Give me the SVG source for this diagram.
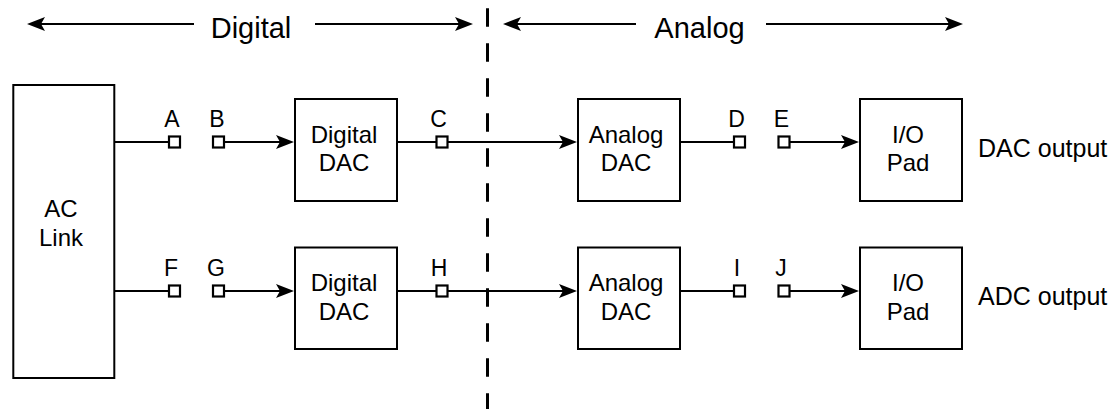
<svg xmlns="http://www.w3.org/2000/svg" width="1113" height="409" viewBox="0 0 1113 409">
  <style>
    text { font-family: "Liberation Sans", Arial, sans-serif; fill: #000; }
    .box { fill: #fff; stroke: #000; stroke-width: 2; }
    .port { fill: #fff; stroke: #000; stroke-width: 2.2; }
    .lbl { font-size: 23px; text-anchor: middle; }
    .btxt { font-size: 24px; text-anchor: middle; }
    .hdr { font-size: 29px; text-anchor: middle; }
    .out { font-size: 25px; }
    .wire { stroke: #000; stroke-width: 2; fill: none; }
    .arw { stroke: #000; stroke-width: 2; fill: none; marker-end: url(#arr); }
  </style>
  <defs>
    <marker id="arr" viewBox="0 0 18 14" refX="12" refY="7" markerWidth="18" markerHeight="14" markerUnits="userSpaceOnUse" orient="auto">
      <path d="M0,0 L18,7 L0,14 L4,7 Z" fill="#000"/>
    </marker>
  </defs>
  <rect width="1113" height="409" fill="#fff"/>

  <!-- header -->
  <g id="header">
    <line class="arw" x1="194" y1="24" x2="33" y2="24"/>
    <text class="hdr" x="251" y="38">Digital</text>
    <line class="arw" x1="315" y1="24" x2="467" y2="24"/>
    <line class="arw" x1="636" y1="24" x2="509" y2="24"/>
    <text class="hdr" x="699.5" y="38">Analog</text>
    <line class="arw" x1="766" y1="24" x2="957" y2="24"/>
  </g>

  <!-- divider -->
  <line id="divider" x1="487.5" y1="8.3" x2="487.5" y2="409" stroke="#000" stroke-width="3" stroke-dasharray="18.5 16.5"/>

  <!-- connectors -->
  <g id="connectors">
    <line class="wire" x1="115" y1="142" x2="168.5" y2="142"/>
    <line class="arw" x1="224.5" y1="142" x2="288" y2="142"/>
    <line class="wire" x1="398" y1="142" x2="436" y2="142"/>
    <line class="arw" x1="448" y1="142" x2="571" y2="142"/>
    <line class="wire" x1="681" y1="142" x2="733.5" y2="142"/>
    <line class="arw" x1="790" y1="142" x2="853" y2="142"/>

    <line class="wire" x1="115" y1="291" x2="168.5" y2="291"/>
    <line class="arw" x1="224.5" y1="291" x2="288" y2="291"/>
    <line class="wire" x1="398" y1="291" x2="436" y2="291"/>
    <line class="arw" x1="448" y1="291" x2="571" y2="291"/>
    <line class="wire" x1="681" y1="291" x2="733.5" y2="291"/>
    <line class="arw" x1="790" y1="291" x2="853" y2="291"/>
  </g>

  <!-- nodes -->
  <g id="aclink">
    <rect class="box" x="13.3" y="85" width="101" height="293"/>
    <text class="btxt" x="61" y="217">AC</text>
    <text class="btxt" x="61" y="246">Link</text>
  </g>

  <g id="digital-dac-1">
    <rect class="box" x="295" y="99" width="102" height="102"/>
    <text class="btxt" x="344" y="142.5">Digital</text>
    <text class="btxt" x="344" y="171">DAC</text>
  </g>
  <g id="analog-dac-1">
    <rect class="box" x="578" y="99" width="102" height="102"/>
    <text class="btxt" x="626" y="142.5">Analog</text>
    <text class="btxt" x="626" y="171">DAC</text>
  </g>
  <g id="io-pad-1">
    <rect class="box" x="860" y="99" width="102" height="102"/>
    <text class="btxt" x="908" y="142.5">I/O</text>
    <text class="btxt" x="908" y="171">Pad</text>
  </g>
  <g id="dac-output">
    <text class="out" x="978" y="157">DAC output</text>
  </g>

  <g id="digital-dac-2">
    <rect class="box" x="295" y="247.5" width="102" height="101.5"/>
    <text class="btxt" x="344" y="291">Digital</text>
    <text class="btxt" x="344" y="319.5">DAC</text>
  </g>
  <g id="analog-dac-2">
    <rect class="box" x="578" y="247.5" width="102" height="101.5"/>
    <text class="btxt" x="626" y="291">Analog</text>
    <text class="btxt" x="626" y="319.5">DAC</text>
  </g>
  <g id="io-pad-2">
    <rect class="box" x="860" y="247.5" width="102" height="101.5"/>
    <text class="btxt" x="908" y="291">I/O</text>
    <text class="btxt" x="908" y="319.5">Pad</text>
  </g>
  <g id="adc-output">
    <text class="out" x="978" y="305">ADC output</text>
  </g>

  <!-- ports row 1 -->
  <g id="port-A"><rect class="port" x="169" y="136.5" width="11" height="11"/><text class="lbl" x="172" y="127">A</text></g>
  <g id="port-B"><rect class="port" x="213" y="136.5" width="11" height="11"/><text class="lbl" x="217" y="127">B</text></g>
  <g id="port-C"><rect class="port" x="436.5" y="136.5" width="11" height="11"/><text class="lbl" x="438.5" y="127">C</text></g>
  <g id="port-D"><rect class="port" x="734" y="136.5" width="11" height="11"/><text class="lbl" x="736.5" y="127">D</text></g>
  <g id="port-E"><rect class="port" x="778.5" y="136.5" width="11" height="11"/><text class="lbl" x="781.5" y="127">E</text></g>

  <!-- ports row 2 -->
  <g id="port-F"><rect class="port" x="169" y="285.5" width="11" height="11"/><text class="lbl" x="171" y="275.5">F</text></g>
  <g id="port-G"><rect class="port" x="213" y="285.5" width="11" height="11"/><text class="lbl" x="216" y="275.5">G</text></g>
  <g id="port-H"><rect class="port" x="436.5" y="285.5" width="11" height="11"/><text class="lbl" x="439" y="275.5">H</text></g>
  <g id="port-I"><rect class="port" x="734" y="285.5" width="11" height="11"/><text class="lbl" x="737" y="275.5">I</text></g>
  <g id="port-J"><rect class="port" x="778.5" y="285.5" width="11" height="11"/><text class="lbl" x="781" y="275.5">J</text></g>
</svg>
